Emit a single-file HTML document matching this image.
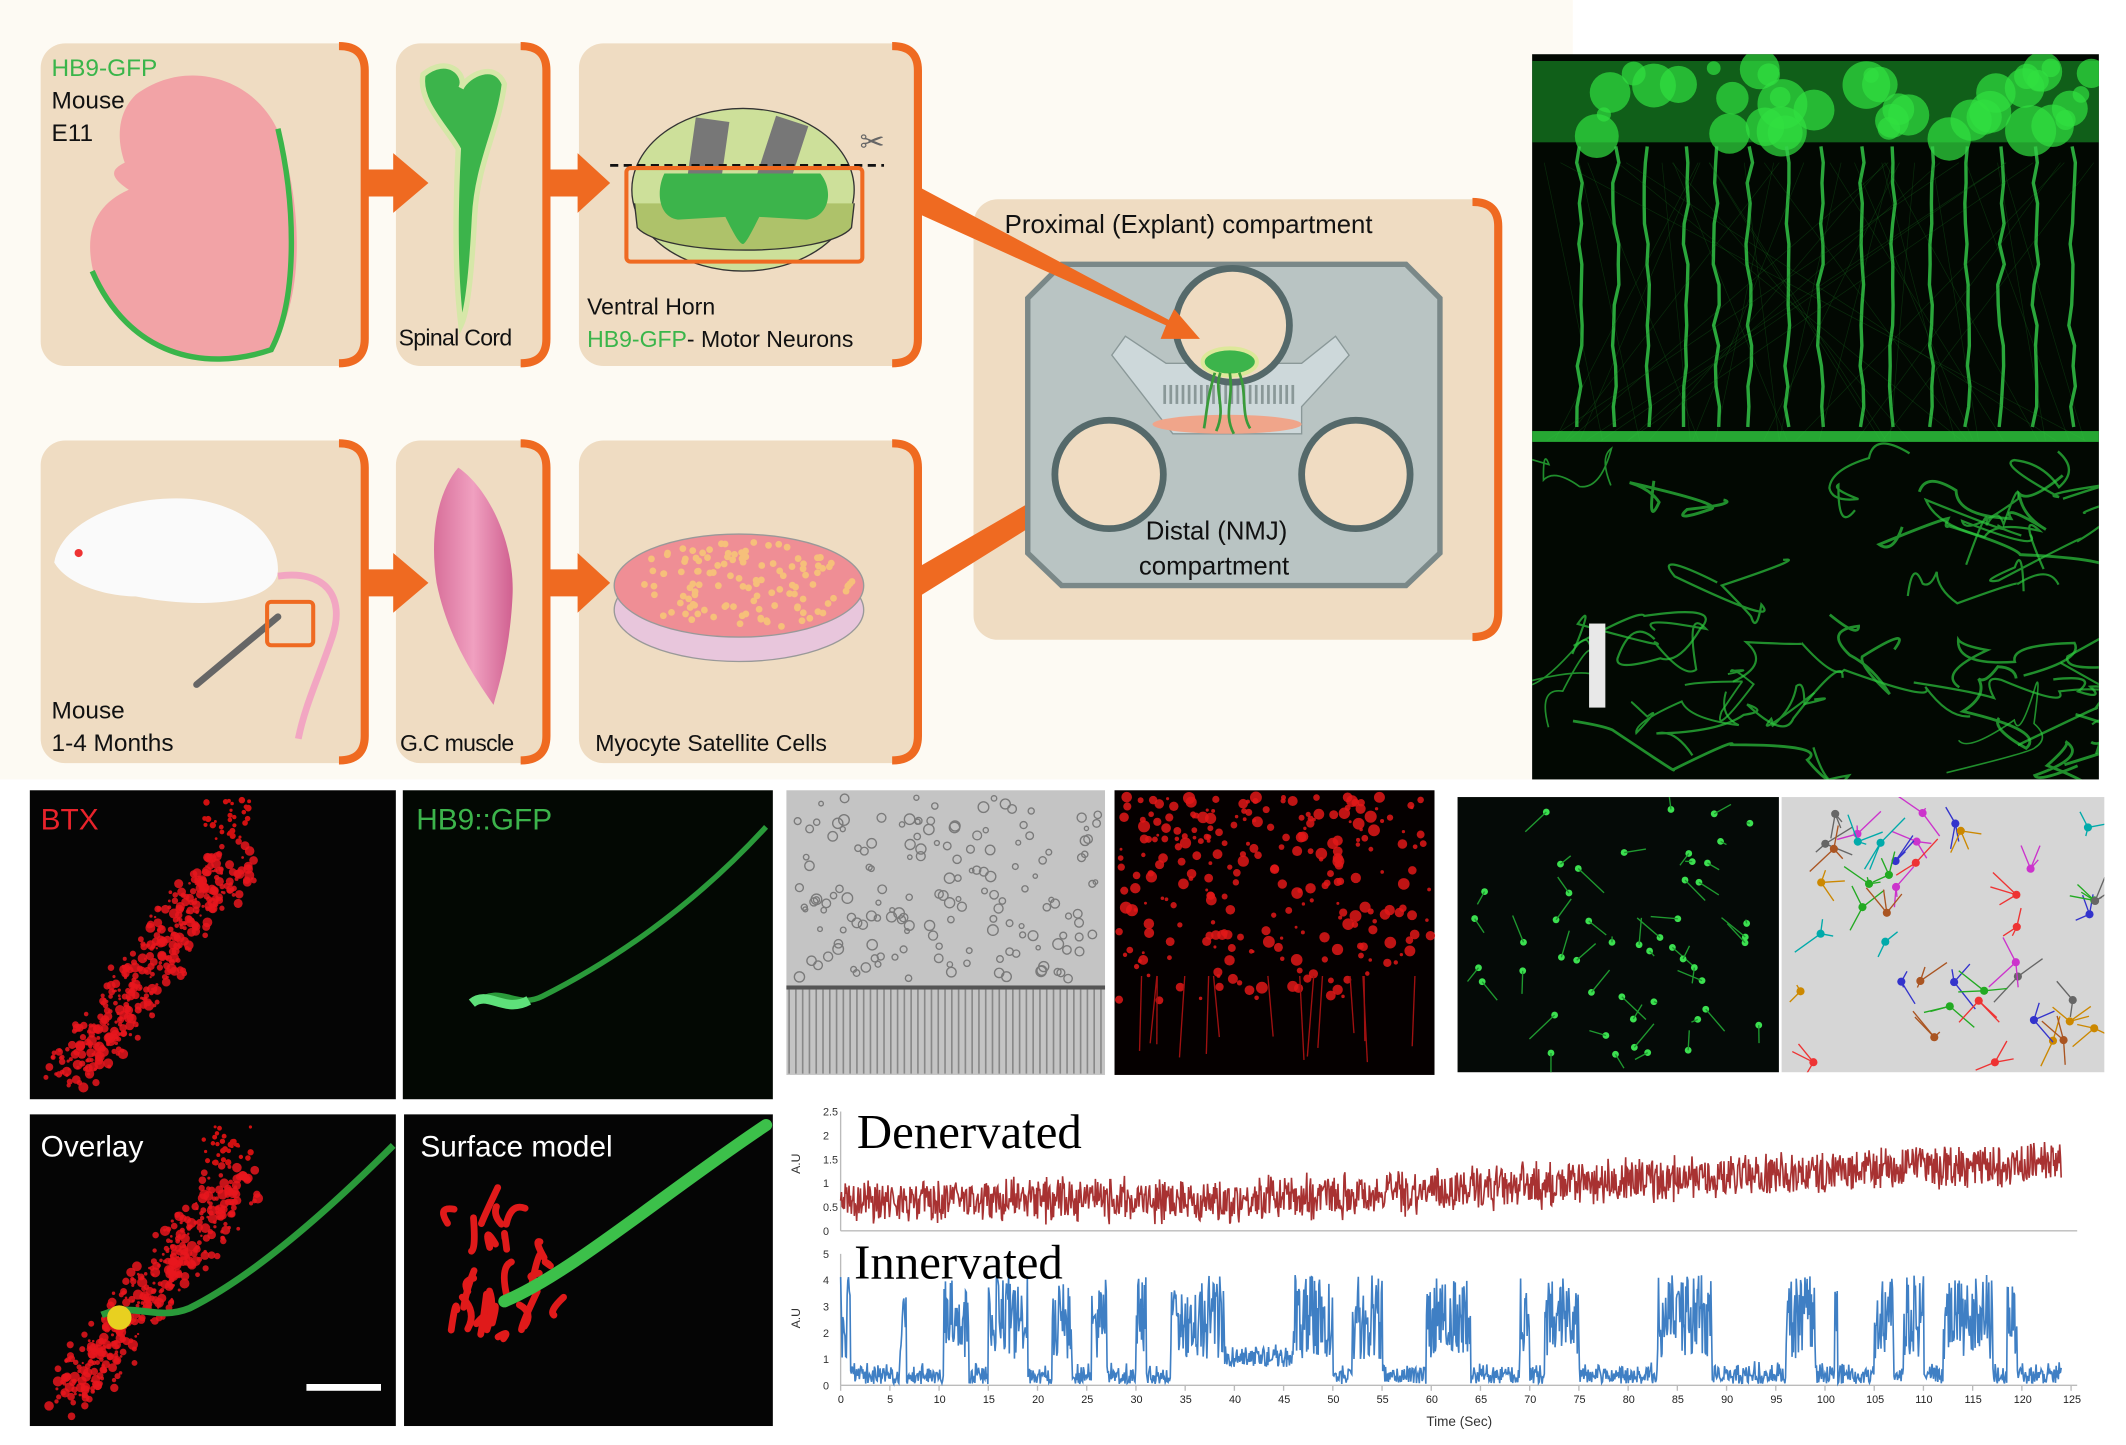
<!DOCTYPE html>
<html><head><meta charset="utf-8"><style>
html,body{margin:0;padding:0;background:#fff;}
svg{display:block}
text{font-family:"Liberation Sans",sans-serif}
</style></head><body>
<svg id="s" width="2126" height="1445" viewBox="0 0 1568 1066" preserveAspectRatio="none" xmlns="http://www.w3.org/2000/svg">
<rect x="0" y="0" width="1568" height="1066" fill="#ffffff"/>
<rect x="0" y="0" width="1160" height="575" fill="#fdfaf3"/>
<defs>
<linearGradient id="pk" x1="0" x2="1"><stop offset="0" stop-color="#d86f9a"/><stop offset="0.5" stop-color="#f0a0c0"/><stop offset="1" stop-color="#d06090"/></linearGradient>
<clipPath id="cF"><rect x="1130" y="40" width="418" height="535"/></clipPath>
<clipPath id="cG"><rect x="1075" y="588" width="237" height="203"/></clipPath>
<clipPath id="cT"><rect x="1314" y="588" width="238" height="203"/></clipPath>
<clipPath id="cB"><rect x="22" y="583" width="548" height="470"/></clipPath>
</defs>
<g id="boxes"></g>
<g fill="#ef6a21">
<polygon points="270,125 290,125 290,113 316,135 290,157 290,145 270,145"/>
<polygon points="404,125 426,125 426,113 450,135 426,157 426,145 404,145"/>
<polygon points="270,420 290,420 290,408 316,430 290,452 290,440 270,440"/>
<polygon points="404,420 426,420 426,408 450,430 426,452 426,440 404,440"/>
<polygon points="678,418 678,440 838,340 845,346 852,318 822,325 828,331"/>
</g>
<!-- embryo -->
<path d="M100,70 C140,40 195,60 208,105 C225,165 222,225 200,258 C150,275 95,262 70,205 C60,170 72,150 95,140 C80,130 82,125 92,120 C85,100 88,82 100,70Z" fill="#f2a3a6"/>
<path d="M205,95 C218,150 220,220 200,258 C150,275 95,262 68,200" fill="none" stroke="#3ab54a" stroke-width="4"/>
<text x="38" y="56" font-size="18" fill="#3ab54a">HB9-GFP</text>
<text x="38" y="80" font-size="18" fill="#111">Mouse</text>
<text x="38" y="104" font-size="18" fill="#111">E11</text>
<!-- spinal cord -->
<path d="M312,55 C330,40 345,55 340,65 C345,55 365,45 372,62 C368,95 352,120 350,160 C348,200 345,230 340,240 C335,200 336,150 338,110 C330,95 308,75 312,55Z" fill="#3cb44b" stroke="#d6e7a8" stroke-width="4"/>
<text x="294" y="255" font-size="17" fill="#111" letter-spacing="-0.5">Spinal Cord</text>
<!-- cord section -->
<ellipse cx="548" cy="140" rx="82" ry="60" fill="#cde09a" stroke="#333" stroke-width="1"/>
<path d="M468,150 L470,168 C490,190 610,190 628,168 L630,150" fill="#aec26a" stroke="#333"/>
<rect x="510" y="88" width="25" height="50" fill="#777" transform="rotate(8 522 110)"/>
<rect x="565" y="88" width="25" height="50" fill="#777" transform="rotate(18 577 110)"/>
<path d="M490,128 L605,128 C615,140 612,160 595,162 L560,160 C555,170 550,180 548,180 C545,180 540,170 535,160 L500,162 C485,160 484,140 490,128Z" fill="#3cb44b"/>
<line x1="450" y1="122" x2="652" y2="122" stroke="#111" stroke-width="2" stroke-dasharray="6,4"/>
<rect x="462" y="124" width="174" height="69" fill="none" stroke="#ef6a21" stroke-width="3" rx="3"/>
<text x="634" y="112" font-size="22" fill="#666">✂</text>
<text x="433" y="232" font-size="17" fill="#111">Ventral Horn</text>
<text x="433" y="256" font-size="17"><tspan fill="#3ab54a">HB9-GFP</tspan><tspan fill="#111">- Motor Neurons</tspan></text>
<!-- row 2 -->
<path d="M40,415 C45,385 90,365 140,368 C180,372 205,395 205,420 C205,445 150,450 100,440 C80,440 50,432 40,415Z" fill="#fafafa"/>
<circle cx="58" cy="408" r="3" fill="#e33"/>
<path d="M205,425 C240,420 255,440 245,470 C235,500 225,520 220,545" fill="none" stroke="#f2a6c2" stroke-width="5"/>
<line x1="145" y1="505" x2="205" y2="455" stroke="#666" stroke-width="5" stroke-linecap="round"/>
<rect x="197" y="444" width="34" height="32" fill="none" stroke="#ef6a21" stroke-width="3" rx="3"/>
<text x="38" y="530" font-size="18" fill="#111">Mouse</text>
<text x="38" y="554" font-size="18" fill="#111">1-4 Months</text>
<path d="M338,345 C360,360 380,400 378,440 C376,480 368,505 364,520 C350,500 330,470 322,430 C316,390 325,360 338,345Z" fill="url(#pk)"/>
<text x="295" y="554" font-size="17" fill="#111" letter-spacing="-0.5">G.C muscle</text>
<ellipse cx="545" cy="450" rx="92" ry="38" fill="#e8c6dc" stroke="#999"/>
<ellipse cx="545" cy="432" rx="92" ry="38" fill="#ef8e95" stroke="#999"/>
<g id="cells"></g>
<text x="439" y="554" font-size="17" fill="#111">Myocyte Satellite Cells</text>
<!-- chamber -->
<polygon points="783,195 1037,195 1062,220 1062,408 1037,432 783,432 758,408 758,220" fill="#b9c4c3" stroke="#7a8888" stroke-width="4"/>
<polygon points="830,248 860,268 960,268 985,248 995,262 960,300 960,320 865,320 820,262" fill="#cdd8da" stroke="#8a9898"/>
<g id="grooves"></g>
<circle cx="909" cy="240" r="42" fill="#f0dcc2" stroke="#55696a" stroke-width="5"/>
<circle cx="818" cy="350" r="40" fill="#f0dcc2" stroke="#55696a" stroke-width="5"/>
<circle cx="1000" cy="350" r="40" fill="#f0dcc2" stroke="#55696a" stroke-width="5"/>
<ellipse cx="905" cy="313" rx="55" ry="7" fill="#f0a58a"/>
<ellipse cx="907" cy="267" rx="20" ry="10" fill="#3cb44b" stroke="#dde89a" stroke-width="3"/>
<g stroke="#3a9b3a" stroke-width="2" fill="none">
<path d="M900,275 C895,290 905,300 897,318"/><path d="M907,275 C910,295 902,305 910,320"/><path d="M914,275 C920,290 915,305 922,316"/><path d="M896,275 C890,295 890,305 888,316"/>
</g>
<polygon points="678,138 678,158 860,240 856,250 885,250 866,228 862,236" fill="#ef6a21"/>
<text x="741" y="172" font-size="19" fill="#111">Proximal (Explant) compartment</text>
<text x="845" y="398" font-size="19" fill="#111">Distal (NMJ)</text>
<text x="840" y="424" font-size="19" fill="#111">compartment</text>
<!-- right fluorescence -->
<rect x="1130" y="40" width="418" height="535" fill="#020802"/>
<g id="fl" clip-path="url(#cF)"></g>
<rect x="1172" y="460" width="12" height="62" fill="#e8e8e8"/>
<!-- bottom left panels -->
<rect x="22" y="583" width="270" height="228" fill="#050505"/>
<rect x="297" y="583" width="273" height="228" fill="#030803"/>
<rect x="22" y="822" width="270" height="230" fill="#050505"/>
<rect x="298" y="822" width="272" height="230" fill="#050505"/>
<g id="bl" clip-path="url(#cB)"></g>
<rect x="292" y="583" width="5" height="470" fill="#fff"/>
<rect x="22" y="811" width="548" height="11" fill="#fff"/>
<text x="30" y="612" font-size="22" fill="#e8232b">BTX</text>
<text x="307" y="612" font-size="22" fill="#3cb44b">HB9::GFP</text>
<text x="30" y="853" font-size="22" fill="#fff">Overlay</text>
<text x="310" y="853" font-size="22" fill="#fff">Surface model</text>
<rect x="226" y="1021" width="55" height="5" fill="#fff"/>
<!-- middle images -->
<rect x="580" y="583" width="235" height="210" fill="#c4c4c4"/>
<rect x="822" y="583" width="236" height="210" fill="#050000"/>
<rect x="1075" y="588" width="237" height="203" fill="#050a07"/>
<rect x="1314" y="588" width="238" height="203" fill="#d6d6d6"/>
<g id="mid"></g>
<g id="gn" clip-path="url(#cG)"></g>
<g id="tm" clip-path="url(#cT)"></g>
<!-- charts -->
<g id="ch"></g>
<text x="632" y="847" font-size="36" fill="#000" style="font-family:'Liberation Serif',serif">Denervated</text>
<text x="630" y="943" font-size="36" fill="#000" style="font-family:'Liberation Serif',serif">Innervated</text>
<text x="1052" y="1052" font-size="10" fill="#333">Time (Sec)</text>
</svg>
<script>
var NS="http://www.w3.org/2000/svg";
var seed=7;function R(){seed=(seed*16807)%2147483647;return (seed-1)/2147483646;}
function el(p,t,a){var e=document.createElementNS(NS,t);for(var k in a)e.setAttribute(k,a[k]);document.getElementById(p).appendChild(e);return e;}
[[30,32,240,238],[292,32,112,238],[427,32,251,238],[30,325,240,238],[292,325,112,238],[427,325,251,238],[718,147,388,325]].forEach(function(b){
 var x=b[0],y=b[1],w=b[2],h=b[3];
 el("boxes","rect",{x:x,y:y,width:w,height:h,rx:18,fill:"#efdcc2"});
 el("boxes","path",{d:"M"+(x+w-20)+","+(y+2)+" Q"+(x+w-1)+","+(y+2)+" "+(x+w-1)+","+(y+20)+" L"+(x+w-1)+","+(y+h-20)+" Q"+(x+w-1)+","+(y+h-2)+" "+(x+w-20)+","+(y+h-2),fill:"none",stroke:"#ef6a21","stroke-width":6});
});
for(var i=0;i<120;i++){var a=R()*6.283,r=Math.sqrt(R());el("cells","circle",{cx:545+Math.cos(a)*r*84,cy:432+Math.sin(a)*r*33,r:2.5,fill:"#f6c07a"});}
for(var i=0;i<22;i++)el("grooves","rect",{x:858+i*4.5,y:284,width:2,height:14,fill:"#8a9898"});
var f="fl";
el(f,"rect",{x:1130,y:45,width:418,height:60,fill:"#1a9a2a",opacity:0.6});
for(var i=0;i<40;i++)el(f,"circle",{cx:1135+R()*410,cy:50+R()*55,r:5+R()*14,fill:"#30e040",opacity:0.7});
for(var i=0;i<15;i++){var x=1160+i*26+R()*6,d="M"+x+",108";for(var y=120;y<=325;y+=15)d+=" L"+(x+(R()-0.5)*5)+","+y;el(f,"path",{d:d,stroke:"#35d04a","stroke-width":2.5,fill:"none",opacity:0.8});}
for(var i=0;i<40;i++){el(f,"line",{x1:1135+R()*410,y1:120,x2:1135+R()*410,y2:325,stroke:"#1a7a22","stroke-width":0.5,opacity:0.3});}
el(f,"rect",{x:1130,y:318,width:418,height:8,fill:"#2fd040",opacity:0.8});
for(var i=0;i<32;i++){var x=1132+R()*414,y=330+R()*240,d="M"+x+","+y;for(var k=0;k<5;k++){x+=(R()-0.4)*110;y+=(R()-0.5)*60;d+=" Q"+(x+(R()-0.5)*40)+","+(y+(R()-0.5)*40)+" "+x+","+y;}el(f,"path",{d:d,stroke:"#2ec83e","stroke-width":1.2+R(),fill:"none",opacity:0.7});}
function blobs(ox,oy,n,col){for(var i=0;i<n;i++){var t=R(),cx=ox+30+t*120+(R()-0.5)*40,cy=oy+210-t*160+(R()-0.5)*30;el("bl","circle",{cx:cx,cy:cy,r:0.8+R()*3,fill:col,opacity:0.85});}}
blobs(22,583,420,"#e8161d");
for(var i=0;i<30;i++)el("bl","circle",{cx:150+R()*35,cy:590+R()*30,r:1+R()*1.5,fill:"#d01010"});
blobs(22,822,420,"#e8161d");
for(var i=0;i<30;i++)el("bl","circle",{cx:150+R()*35,cy:828+R()*30,r:1+R()*1.5,fill:"#d01010"});
el("bl","path",{d:"M350,740 C370,725 380,745 400,735 C450,710 510,670 565,610",stroke:"#2a9a3a","stroke-width":4,fill:"none"});
el("bl","path",{d:"M348,740 C360,730 372,748 390,738",stroke:"#5ee07a","stroke-width":7,fill:"none"});
el("bl","path",{d:"M75,970 C100,960 115,975 140,965 C180,945 230,905 290,845",stroke:"#2a9a3a","stroke-width":5,fill:"none"});
el("bl","circle",{cx:88,cy:972,r:9,fill:"#e8d020"});
for(var i=0;i<25;i++){var x=330+R()*80,y=900+R()*90;el("bl","path",{d:"M"+x+","+y+" q"+(R()*20-10)+","+(R()*-25)+" "+(R()*20-5)+","+(R()*-30),stroke:"#e01a1a","stroke-width":5,fill:"none","stroke-linecap":"round"});}
el("bl","path",{d:"M372,960 C420,940 490,880 565,830",stroke:"#3cc04a","stroke-width":9,fill:"none","stroke-linecap":"round"});
for(var i=0;i<160;i++)el("mid","circle",{cx:583+R()*229,cy:588+R()*135,r:1.5+R()*2.5,fill:"none",stroke:"#7a7a7a","stroke-width":1});
el("mid","rect",{x:580,y:727,width:235,height:3,fill:"#555"});
for(var x=582;x<815;x+=5)el("mid","line",{x1:x,y1:730,x2:x,y2:792,stroke:"#888","stroke-width":1.2});
for(var i=0;i<260;i++)el("mid","circle",{cx:825+R()*230,cy:588+Math.pow(R(),1.5)*150,r:1+R()*3.5,fill:"#e01818",opacity:0.85});
for(var i=0;i<14;i++){var x=835+R()*215;el("mid","line",{x1:x,y1:720,x2:x+(R()-0.5)*10,y2:760+R()*30,stroke:"#a01010","stroke-width":1});}
for(var i=0;i<50;i++){var x=1080+R()*228,y=595+R()*190;el("gn","circle",{cx:x,cy:y,r:2.5,fill:"#3ce050"});el("gn","line",{x1:x,y1:y,x2:x+(R()-0.5)*40,y2:y+(R()-0.5)*40,stroke:"#1f9a30","stroke-width":1});}
var cols=["#e33","#33c","#2a2","#c3c","#c80","#0aa","#a52","#666"];
for(var i=0;i<45;i++){var x=1320+R()*226,y=595+R()*190,c=cols[i%8];for(var k=0;k<3;k++)el("tm","line",{x1:x,y1:y,x2:x+(R()-0.5)*40,y2:y+(R()-0.5)*40,stroke:c,"stroke-width":1});el("tm","circle",{cx:x,cy:y,r:3,fill:c});}
var c="ch";
function axis(y0,ytop,labels,step){el(c,"line",{x1:620,y1:ytop,x2:620,y2:y0,stroke:"#bbb"});el(c,"line",{x1:620,y1:y0,x2:1532,y2:y0,stroke:"#bbb"});
 labels.forEach(function(l,i){el(c,"text",{x:607,y:y0-i*step+3,"font-size":8,fill:"#333"}).textContent=l;});}
axis(908,820,["0","0.5","1","1.5","2","2.5"],17.6);
axis(1022,925,["0","1","2","3","4","5"],19.4);
var tA=el(c,"text",{x:590,y:866,"font-size":9,fill:"#333",transform:"rotate(-90 590 866)"});tA.textContent="A.U";
var tB=el(c,"text",{x:590,y:980,"font-size":9,fill:"#333",transform:"rotate(-90 590 980)"});tB.textContent="A.U";
for(var s=0;s<=125;s+=5){var x=620+s*7.26;el(c,"text",{x:x-(s>=100?6:s>=10?4:2),y:1035,"font-size":8,fill:"#222"}).textContent=s;el(c,"line",{x1:x,y1:1022,x2:x,y2:1026,stroke:"#bbb"});}
var d="",N=1600;
for(var i=0;i<=N;i++){var t=i/N*124,m=t<40?0.65:0.65+(t-40)/84*0.8;var v=m+(R()-0.5)*0.9*(0.6+R()*0.6);v=Math.max(0,v);d+=(i?" L":"M")+(620+t*7.26).toFixed(1)+","+(908-v*35.2).toFixed(1);}
el(c,"path",{d:d,stroke:"#a83232","stroke-width":1.2,fill:"none"});
var bursts=[[0,1],[6,6.7],[10.5,13],[15,19],[21.5,23.5],[25.5,27],[30,31],[33.5,39],[46,50],[52,55],[59.5,64],[69,70],[71.5,75],[83,88.5],[96,97],[97,99],[101,101.3],[105,107],[108,110],[112,117],[118.5,119.5]];
d="";N=1700;
for(var i=0;i<=N;i++){var t=i/N*124,v=0.45*R()*(1+R())+(t>35&&t<47?0.7:0.05);for(var b=0;b<bursts.length;b++){if(t>=bursts[b][0]&&t<=bursts[b][1]){v=1+R()*3.2;}}d+=(i?" L":"M")+(620+t*7.26).toFixed(1)+","+(1022-v*19.4).toFixed(1);}
el(c,"path",{d:d,stroke:"#3f7fc4","stroke-width":1.2,fill:"none"});
</script>
</body></html>
